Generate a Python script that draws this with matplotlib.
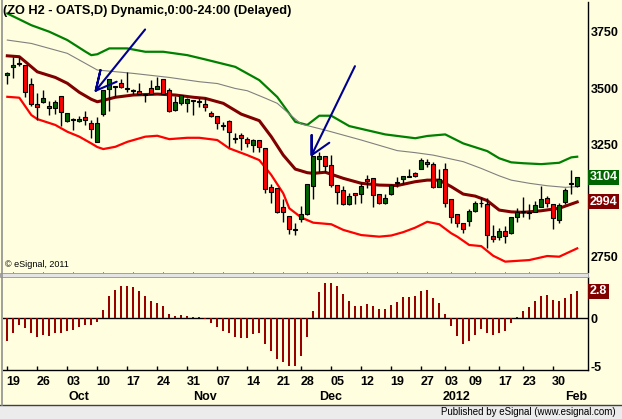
import numpy as np
import matplotlib
matplotlib.use("Agg")
import matplotlib.pyplot as plt
from matplotlib.patches import Rectangle
from matplotlib.transforms import blended_transform_factory

# daily bars, index 0 = Sep 16 2011 ... 95 = Feb 02 2012
opens = [3556, 3592, 3605, 3602, 3516, 3427, 3436, 3419, 3410, 3463,
         3355, 3358, 3355, 3372, 3346, 3259, 3384, 3494, 3503, 3521,
         3498, 3488, 3487, 3473, 3499, 3494, 3538, 3491, 3402, 3432,
         3432, 3441, 3443, 3427, 3390, 3376, 3336, 3355, 3277, 3291,
         3273, 3247, 3269, 3232, 3062, 3055, 2973, 2932, 2873, 2917,
         2941, 3066, 3183, 3198, 3158, 3069, 3047, 2985, 3035, 3029,
         3095, 3099, 3029, 2991, 3029, 3080, 3095, 3106, 3124, 3139,
         3173, 3161, 3062, 3139, 3006, 2941, 2899, 2911, 2955, 2988,
         2984, 2843, 2840, 2866, 2855, 2929, 2948, 2944, 2951, 2973,
         3010, 2984, 2914, 2995, 3074, 3066]
highs = [3572, 3636, 3639, 3602, 3543, 3476, 3491, 3442, 3447, 3463,
         3390, 3365, 3376, 3398, 3358, 3370, 3491, 3538, 3507, 3540,
         3569, 3494, 3523, 3473, 3535, 3547, 3538, 3499, 3464, 3469,
         3454, 3447, 3454, 3454, 3399, 3376, 3350, 3358, 3301, 3301,
         3281, 3272, 3269, 3232, 3074, 3055, 3006, 2932, 2899, 2976,
         3074, 3199, 3217, 3198, 3202, 3069, 3065, 3035, 3035, 3084,
         3114, 3099, 3029, 3029, 3074, 3106, 3109, 3139, 3128, 3188,
         3183, 3173, 3139, 3166, 3006, 2941, 2899, 2961, 3000, 3017,
         3010, 2892, 2880, 2887, 2929, 2966, 3015, 2985, 2998, 3065,
         3020, 2984, 2988, 3057, 3136, 3104]
lows = [3516, 3546, 3600, 3461, 3421, 3358, 3432, 3380, 3384, 3332,
        3350, 3314, 3350, 3336, 3279, 3259, 3376, 3399, 3461, 3499,
        3481, 3473, 3473, 3439, 3473, 3494, 3473, 3395, 3399, 3424,
        3395, 3380, 3417, 3399, 3370, 3317, 3314, 3239, 3257, 3225,
        3239, 3217, 3217, 3035, 2988, 2944, 2906, 2850, 2847, 2906,
        2936, 3006, 3128, 3128, 3062, 2985, 2980, 2980, 2985, 2988,
        3055, 2973, 2985, 2985, 3025, 3062, 3074, 3106, 3106, 3139,
        3148, 3055, 3062, 2973, 2902, 2881, 2858, 2887, 2951, 2973,
        2788, 2818, 2825, 2812, 2852, 2906, 2929, 2918, 2948, 2970,
        2973, 2873, 2902, 2985, 3029, 3062]
closes = [3566, 3602, 3611, 3481, 3427, 3414, 3454, 3410, 3436, 3392,
          3388, 3361, 3361, 3358, 3317, 3343, 3491, 3538, 3507, 3503,
          3494, 3487, 3473, 3470, 3473, 3509, 3473, 3399, 3438, 3469,
          3450, 3447, 3438, 3414, 3376, 3343, 3331, 3303, 3273, 3277,
          3254, 3269, 3239, 3050, 3040, 2951, 2948, 2873, 2869, 2941,
          3074, 3199, 3198, 3154, 3069, 3040, 2985, 3020, 3025, 3065,
          3088, 3025, 2991, 3010, 3069, 3084, 3109, 3109, 3109, 3180,
          3162, 3062, 3095, 2988, 2929, 2902, 2873, 2954, 2991, 2991,
          2847, 2828, 2865, 2844, 2926, 2948, 2954, 2951, 2980, 3006,
          2988, 2921, 2980, 3047, 3077, 3104]

# oscillator histogram
hist = [-2.4, -1.5, -0.7, -1.0, -1.5, -1.9, -1.7, -1.8, -1.5, -1.5,
        -1.3, -1.2, -0.9, -0.7, -0.7, -0.35, 0.9, 2.3, 2.9, 3.3,
        3.3, 3.2, 2.8, 2.3, 1.8, 1.55, 1.3, 0.45, 0.25, 0.35,
        0.25, 0.17, 0.1, -0.1, -0.45, -0.9, -1.3, -1.55, -1.9, -2.0,
        -2.0, -1.65, -1.55, -2.7, -3.4, -4.2, -4.5, -4.9, -4.9, -3.9,
        -1.9, 0.75, 2.75, 3.6, 3.6, 3.3, 2.5, 1.8, 1.3, 1.3,
        1.5, 1.3, 1.0, 1.0, 1.4, 1.65, 2.15, 2.25, 2.35, 2.8,
        2.95, 2.05, 1.55, 0.45, -0.75, -1.8, -2.65, -2.4, -1.7, -1.1,
        -1.5, -1.7, -1.5, -1.3, -0.5, 0.1, 0.75, 1.2, 1.8, 2.35,
        2.4, 1.9, 1.8, 2.05, 2.5, 2.8]

# channel lines (read at bar index)
upper_x = [0, 4, 7, 10, 13, 14, 15, 17, 20, 23, 26, 30, 33, 38, 42, 45, 48,
           50, 52, 54, 57, 63, 68, 70, 73, 76, 80, 82, 84, 86, 89, 92, 94, 95]
upper_y = [3831, 3779, 3750, 3713, 3662, 3646, 3650, 3676, 3676, 3661, 3661,
           3646, 3627, 3594, 3535, 3460, 3350, 3336, 3377, 3377, 3331, 3294,
           3277, 3287, 3294, 3254, 3220, 3188, 3170, 3166, 3162, 3168, 3192, 3195]
mid_x = [0, 4, 10, 15, 21, 27, 32, 35, 38, 40, 43, 45, 47, 49, 53, 59, 65,
         68, 71, 76, 79, 82, 84, 87, 90, 93, 95]
mid_y = [3713, 3698, 3654, 3580, 3565, 3547, 3528, 3520, 3498, 3488, 3455,
         3432, 3385, 3340, 3313, 3269, 3222, 3213, 3202, 3173, 3143, 3110,
         3091, 3077, 3066, 3059, 3062]
ma_x = [0, 2, 3, 5, 8, 10, 12, 14, 15, 16, 18, 21, 25, 28, 31, 33, 36, 39,
        42, 44, 46, 48, 50, 51, 53, 56, 59, 62, 65, 68, 70, 72, 74, 76, 78,
        80, 82, 84, 86, 89, 92, 95]
ma_y = [3643, 3639, 3617, 3572, 3547, 3521, 3481, 3450, 3439, 3445, 3459,
        3469, 3473, 3469, 3459, 3454, 3432, 3384, 3355, 3284, 3202, 3140,
        3124, 3121, 3126, 3099, 3077, 3069, 3067, 3084, 3091, 3091, 3062,
        3029, 3020, 3000, 2958, 2950, 2948, 2955, 2966, 2994]
lower_x = [0, 2, 4, 5, 8, 10, 12, 14, 15, 16, 18, 20, 23, 25, 27, 30, 32,
           35, 37, 40, 42, 44, 46, 47, 49, 51, 54, 56, 59, 62, 64, 66, 68,
           70, 72, 74, 75, 77, 79, 81, 83, 87, 90, 92, 95]
lower_y = [3461, 3457, 3380, 3362, 3336, 3306, 3284, 3254, 3238, 3229, 3239,
           3261, 3284, 3288, 3273, 3279, 3279, 3269, 3232, 3202, 3180, 3114,
           3032, 2966, 2925, 2902, 2895, 2870, 2847, 2840, 2845, 2860, 2880,
           2906, 2895, 2855, 2840, 2803, 2798, 2755, 2729, 2736, 2754, 2751, 2788]

# hand-drawn arrows (bar index, price)
arrow1_x = [22.97, 14.73, 15.53, 14.73, 18.23]
arrow1_y = [3760, 3488, 3580, 3488, 3528]
arrow2_x = [57.95, 50.73, 50.73, 50.73, 53.67]
arrow2_y = [3597, 3202, 3291, 3202, 3257]

day_pos = [1, 6, 11, 16, 21, 26, 31, 36, 41, 46, 50, 55, 60, 65, 70, 74, 78, 83, 87, 92]
day_labels = ['19', '26', '03', '10', '17', '24', '31', '07', '14', '21',
              '28', '05', '12', '19', '27', '03', '09', '17', '23', '30']
month_first = [11, 32, 53, 74, 94]
month_labels = ['Oct', 'Nov', 'Dec', '2012', 'Feb']

price_ticks = [3750, 3500, 3250, 2750]

W, H = 622, 419
cream = '#FFFFE0'
font = 'Liberation Sans'

fig = plt.figure(figsize=(W / 100, H / 100), dpi=100, facecolor=cream)


def frac(x0, y0, x1, y1):
    return [x0 / W, 1 - y1 / H, (x1 - x0) / W, (y1 - y0) / H]


ax = fig.add_axes(frac(3, 2, 588, 272))
axh = fig.add_axes(frac(3, 277, 588, 370), sharex=ax)
for a in (ax, axh):
    a.set_facecolor(cream)
    for s in ('top', 'left', 'bottom'):
        a.spines[s].set_visible(False)
    a.spines['right'].set_color('black')
    a.spines['right'].set_linewidth(1)
    a.yaxis.tick_right()
axh.spines['bottom'].set_visible(True)
axh.spines['bottom'].set_linewidth(1)

idx = np.arange(len(closes))
o = np.array(opens)
c = np.array(closes)

# lines
ax.plot(upper_x, upper_y, color='#008000', lw=1.6, zorder=2)
ax.plot(mid_x, mid_y, color='#808080', lw=0.8, zorder=2)
ax.plot(ma_x, ma_y, color='#800000', lw=2.2, zorder=2)
ax.plot(lower_x, lower_y, color='#FF0000', lw=1.6, zorder=2)

# candles
ax.vlines(idx, lows, highs, color='black', lw=1, zorder=3)
body_col = np.where(c >= o, '#006400', '#FF0000')
ax.bar(idx, np.maximum(np.abs(c - o), 3), bottom=np.minimum(o, c), width=0.7,
       color=body_col, edgecolor='black', linewidth=0.8, zorder=4)

# arrows
for xs, ys in ((arrow1_x, arrow1_y), (arrow2_x, arrow2_y)):
    ax.plot(xs, ys, color='#000090', lw=1.5, zorder=5, solid_capstyle='round')

ax.set_xlim(-0.72, 96.8)
ax.set_ylim(2683, 3882)
ax.set_yticks(price_ticks)
ax.set_yticklabels([str(t) for t in price_ticks])
ax.tick_params(axis='y', length=0, pad=2, labelsize=9)
ax.tick_params(axis='x', bottom=False, labelbottom=False)
for t in ax.get_yticklabels():
    t.set_fontfamily(font)
    t.set_fontweight('bold')

tr = blended_transform_factory(ax.transAxes, ax.transData)
ax.text(1.003, closes[-1], f'{closes[-1]}', transform=tr, va='center', ha='left',
        color='white', fontsize=9, fontweight='bold', family=font,
        bbox=dict(boxstyle='square,pad=0.12', fc='#006400', ec='none'))
ax.text(1.003, ma_y[-1], f'{ma_y[-1]}', transform=tr, va='center', ha='left',
        color='white', fontsize=9, fontweight='bold', family=font,
        bbox=dict(boxstyle='square,pad=0.12', fc='#800000', ec='none'))

ax.text(0.004, 0.012, '\u00a9 eSignal, 2011', transform=ax.transAxes, fontsize=6.5,
        family=font, va='bottom', ha='left')

# histogram
axh.bar(idx, hist, width=0.38, color='#990000', zorder=3)
axh.axhline(0, color='black', lw=1, zorder=2)
axh.set_ylim(-5.35, 4.27)
axh.set_yticks([0, -5])
axh.set_yticklabels(['0', '-5'])
axh.tick_params(axis='y', length=0, pad=2, labelsize=9)
for t in axh.get_yticklabels():
    t.set_fontfamily(font)
    t.set_fontweight('bold')
trh = blended_transform_factory(axh.transAxes, axh.transData)
axh.text(1.003, hist[-1], f'{hist[-1]}', transform=trh, va='center', ha='left',
         color='white', fontsize=9, fontweight='bold', family=font,
         bbox=dict(boxstyle='square,pad=0.12', fc='#800000', ec='none'))

axh.set_xticks([p - 1 for p in day_pos])
axh.set_xticklabels([''] * len(day_pos))
axh.tick_params(axis='x', which='major', direction='in', length=3, width=1)
axh.set_xticks(day_pos, minor=True)
axh.set_xticklabels(day_labels, minor=True)
axh.tick_params(axis='x', which='minor', length=0, pad=4, labelsize=9)
for t in axh.get_xticklabels(minor=True):
    t.set_fontfamily(font)
    t.set_fontweight('bold')
trx = blended_transform_factory(axh.transData, axh.transAxes)
for p, lab in zip(month_first, month_labels):
    axh.text(p + 0.9, -0.29, lab, transform=trx, ha='center', va='center',
             fontsize=9, fontweight='bold', family=font)

# title
fig.text(3 / W, 1 - 11 / H, '(ZO H2 - OATS,D) Dynamic,0:00-24:00 (Delayed)',
         fontsize=9.2, fontweight='bold', family=font, va='center', ha='left')

# frame pieces
fig.add_artist(Rectangle((0, 1 - 277 / H), 588 / W, 4 / H, transform=fig.transFigure,
                         fc='#E4E4E4', ec='#A0A0A0', lw=0.7))
fig.add_artist(Rectangle((0, 0), 1, 14 / H, transform=fig.transFigure,
                         fc='#ECECEC', ec='none'))
fig.add_artist(plt.Line2D([0, 1], [14 / H, 14 / H], transform=fig.transFigure,
                          color='#404040', lw=1))
fig.add_artist(plt.Line2D([1.5 / W, 1.5 / W], [14 / H, 1], transform=fig.transFigure,
                          color='#909090', lw=1.2))
fig.text(616 / W, 7 / H, 'Published by eSignal (www.esignal.com)', fontsize=7,
         family=font, ha='right', va='center')

fig.savefig('out.png', dpi=100, facecolor=cream)
